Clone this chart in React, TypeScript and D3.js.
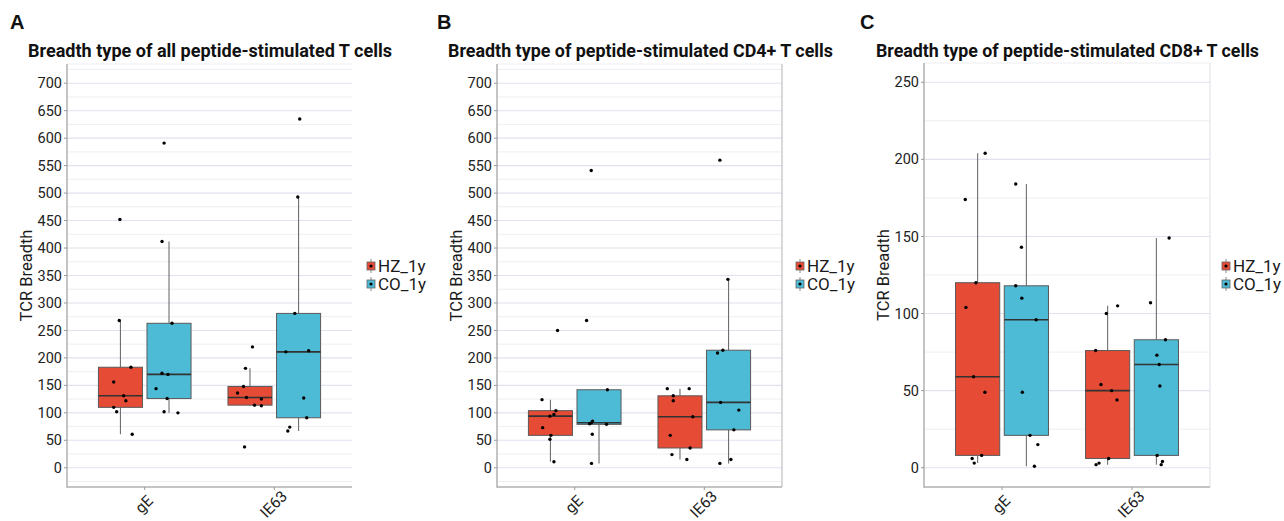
import React, { useEffect, useRef } from 'react';
import * as d3 from 'd3';

const categories = ['gE', 'IE63'];
const groups = ['HZ_1y', 'CO_1y'];
const groupColors = ['#E64B35', '#4DBBD5'];

const breadthTicks = [0, 50, 100, 150, 200, 250, 300, 350, 400, 450, 500, 550, 600, 650, 700];
const cd8Ticks = [0, 50, 100, 150, 200, 250];

// A: all peptide-stimulated T cells
const allGeHz = [452, 268, 183, 156, 131, 122, 110, 102, 61];
const allGeCo = [591, 412, 263, 172, 170, 144, 126, 102, 100];
const allIeHz = [220, 181, 148, 136, 128, 125, 114, 113, 38];
const allIeCo = [635, 493, 281, 211, 213, 127, 91, 74, 67];
const allJitter = [
  [-0.004, -0.009, 0.081, -0.052, 0.025, 0.042, -0.052, -0.029, 0.091],
  [-0.038, -0.054, 0.023, -0.054, -0.008, -0.1, -0.015, -0.038, 0.069],
  [0.019, -0.035, -0.05, -0.096, -0.027, 0.088, 0.035, 0.088, -0.042],
  [0.009, -0.006, -0.029, -0.098, 0.078, 0.04, 0.063, -0.068, -0.083],
];

// B: CD4+ T cells
const cd4GeHz = [250, 124, 104, 97, 94, 73, 59, 52, 11];
const cd4GeCo = [541, 268, 142, 85, 82, 80, 79, 61, 8];
const cd4IeHz = [144, 144, 131, 122, 93, 59, 36, 24, 15];
const cd4IeCo = [560, 343, 214, 209, 119, 105, 69, 15, 8];
const cd4Jitter = [
  [0.055, -0.065, 0.042, 0.027, -0.004, -0.06, 0.004, -0.004, 0.027],
  [-0.06, -0.096, 0.065, -0.05, -0.058, -0.073, 0.058, -0.052, -0.058],
  [-0.098, 0.071, -0.052, -0.052, 0.099, -0.075, 0.078, -0.062, 0.053],
  [-0.067, -0.005, -0.044, -0.085, -0.062, 0.079, 0.041, 0.018, -0.067],
];

// C: CD8+ T cells
const cd8GeHz = [204, 174, 120, 104, 59, 49, 8, 6, 3];
const cd8GeCo = [184, 143, 118, 110, 96, 49, 21, 15, 1];
const cd8IeHz = [105, 100, 76, 54, 50, 44, 6, 3, 2];
const cd8IeCo = [149, 107, 83, 73, 67, 53, 8, 4, 2];
const cd8Jitter = [
  [0.058, -0.095, -0.013, -0.09, -0.031, 0.056, 0.031, -0.042, -0.026],
  [-0.082, -0.038, -0.082, -0.035, 0.075, -0.031, 0.028, 0.088, 0.062],
  [0.077, -0.01, -0.092, -0.051, 0.031, 0.072, 0.008, -0.066, -0.089],
  [0.098, -0.045, 0.07, 0.004, 0.022, 0.027, 0.006, 0.047, 0.037],
];

const panels = [
  {
    letter: 'A', letterX: 10, title: 'Breadth type of all peptide-stimulated T cells', titleX: 28, titleW: 364,
    left: 67, right: 352, top: 64, bottom: 487, domain: [-35, 735], ticks: breadthTicks,
    series: [allGeHz, allGeCo, allIeHz, allIeCo], jitter: allJitter, legendX: 367, rightBorder: null,
  },
  {
    letter: 'B', letterX: 437, title: 'Breadth type of peptide-stimulated CD4+ T cells', titleX: 448, titleW: 385,
    left: 497, right: 782, top: 64, bottom: 487, domain: [-35, 735], ticks: breadthTicks,
    series: [cd4GeHz, cd4GeCo, cd4IeHz, cd4IeCo], jitter: cd4Jitter, legendX: 796, rightBorder: '#c4c4c4',
  },
  {
    letter: 'C', letterX: 860, title: 'Breadth type of peptide-stimulated CD8+ T cells', titleX: 876, titleW: 383,
    left: 924, right: 1210, top: 63, bottom: 487, domain: [-12.5, 262.5], ticks: cd8Ticks,
    series: [cd8GeHz, cd8GeCo, cd8IeHz, cd8IeCo], jitter: cd8Jitter, legendX: 1222, rightBorder: '#e6e6ec',
  },
];

const boxStats = (vals: number[]) => {
  const s = vals.slice().sort(d3.ascending);
  const q1 = d3.quantile(s, 0.25)!;
  const med = d3.quantile(s, 0.5)!;
  const q3 = d3.quantile(s, 0.75)!;
  const iqr = q3 - q1;
  const lo = d3.min(s.filter(v => v >= q1 - 1.5 * iqr))!;
  const hi = d3.max(s.filter(v => v <= q3 + 1.5 * iqr))!;
  return { q1, med, q3, lo, hi };
};

const FONT = 'Roboto, sans-serif';

const App = () => {
  const ref = useRef<SVGSVGElement>(null);

  useEffect(() => {
    const svg = d3.select(ref.current);
    svg.selectAll('*').remove();

    panels.forEach(p => {
      const g = svg.append('g');
      const x = d3.scaleLinear().domain([0.4, 2.6]).range([p.left, p.right]);
      const y = d3.scaleLinear().domain(p.domain).range([p.bottom, p.top]);
      const step = p.ticks[1] - p.ticks[0];

      // letter + title
      g.append('text').attr('x', p.letterX).attr('y', 28.5).text(p.letter)
        .attr('font-family', '"Liberation Sans", Arial, sans-serif').attr('font-weight', 'bold')
        .attr('font-size', 20).attr('fill', '#111');
      g.append('text').attr('x', p.titleX).attr('y', 56.5).text(p.title)
        .attr('font-family', FONT).attr('font-weight', 'bold').attr('font-size', 17.5)
        .attr('textLength', p.titleW).attr('lengthAdjust', 'spacingAndGlyphs').attr('fill', '#111');

      // grid
      const minor = [p.ticks[0] - step / 2, ...p.ticks.map(t => t + step / 2)]
        .filter(v => v > p.domain[0] && v < p.domain[1]);
      g.selectAll('.minor').data(minor).enter().append('line')
        .attr('x1', p.left).attr('x2', p.right).attr('y1', d => y(d)).attr('y2', d => y(d))
        .attr('stroke', '#eeeef4').attr('stroke-width', 1);
      g.selectAll('.major').data(p.ticks).enter().append('line')
        .attr('x1', p.left).attr('x2', p.right).attr('y1', d => y(d)).attr('y2', d => y(d))
        .attr('stroke', '#e0e2ee').attr('stroke-width', 1.1);

      // borders
      g.append('line').attr('x1', p.left).attr('x2', p.right).attr('y1', p.top).attr('y2', p.top)
        .attr('stroke', '#eeeef2');
      if (p.rightBorder) {
        g.append('line').attr('x1', p.right).attr('x2', p.right).attr('y1', p.top).attr('y2', p.bottom)
          .attr('stroke', p.rightBorder).attr('stroke-width', 1.3);
      }
      g.append('line').attr('x1', p.left).attr('x2', p.left).attr('y1', p.top).attr('y2', p.bottom + 0.7)
        .attr('stroke', '#b0b0b0').attr('stroke-width', 1.5);
      g.append('line').attr('x1', p.left).attr('x2', p.right).attr('y1', p.bottom).attr('y2', p.bottom)
        .attr('stroke', '#b0b0b0').attr('stroke-width', 1.5);

      // y ticks
      g.selectAll('.yt').data(p.ticks).enter().append('line')
        .attr('x1', p.left - 3).attr('x2', p.left).attr('y1', d => y(d)).attr('y2', d => y(d))
        .attr('stroke', '#999');
      g.selectAll('.yl').data(p.ticks).enter().append('text')
        .attr('x', p.left - 5).attr('y', d => y(d)).attr('dy', '0.35em')
        .attr('text-anchor', 'end').attr('font-family', FONT).attr('font-size', 14.5).attr('fill', '#222')
        .text(d => d);

      // x ticks
      categories.forEach((c, ci) => {
        const cx = x(ci + 1);
        g.append('line').attr('x1', cx).attr('x2', cx).attr('y1', p.bottom).attr('y2', p.bottom + 3)
          .attr('stroke', '#999');
        g.append('text').attr('transform', `translate(${cx + 3},${p.bottom + 21}) rotate(-45)`)
          .attr('text-anchor', 'middle').attr('font-family', FONT).attr('font-size', 15.5).attr('fill', '#222')
          .text(c);
      });

      // axis title
      g.append('text').attr('transform', `translate(${p.left - 35},${(p.top + p.bottom) / 2}) rotate(-90)`)
        .attr('text-anchor', 'middle').attr('font-family', FONT).attr('font-size', 16.5).attr('fill', '#1a1a1a')
        .text('TCR Breadth');

      // boxes
      categories.forEach((c, ci) => {
        groups.forEach((grp, gi) => {
          const k = ci * 2 + gi;
          const vals = p.series[k];
          const st = boxStats(vals);
          const center = ci + 1 + (gi === 0 ? -0.1875 : 0.1875);
          const x0 = x(center - 0.17);
          const x1 = x(center + 0.17);
          const xc = x(center);
          g.append('line').attr('x1', xc).attr('x2', xc).attr('y1', y(st.hi)).attr('y2', y(st.q3))
            .attr('stroke', '#6e6e6e').attr('stroke-width', 1.1);
          g.append('line').attr('x1', xc).attr('x2', xc).attr('y1', y(st.q1)).attr('y2', y(st.lo))
            .attr('stroke', '#6e6e6e').attr('stroke-width', 1.1);
          g.append('rect').attr('x', x0).attr('y', y(st.q3)).attr('width', x1 - x0)
            .attr('height', y(st.q1) - y(st.q3)).attr('fill', groupColors[gi])
            .attr('stroke', '#5a5a5a').attr('stroke-width', 1);
          g.append('line').attr('x1', x0).attr('x2', x1).attr('y1', y(st.med)).attr('y2', y(st.med))
            .attr('stroke', '#333').attr('stroke-width', 1.6);
          g.selectAll(`.pt${k}`).data(vals).enter().append('circle')
            .attr('cx', (d, i) => x(center + p.jitter[k][i])).attr('cy', d => y(d))
            .attr('r', 1.7).attr('fill', '#000');
        });
      });

      // legend
      groups.forEach((grp, gi) => {
        const cy = 266 + gi * 18;
        const kx = p.legendX + 4;
        g.append('line').attr('x1', kx).attr('x2', kx).attr('y1', cy - 7).attr('y2', cy + 7)
          .attr('stroke', '#8a8a8a');
        g.append('rect').attr('x', kx - 4).attr('y', cy - 4).attr('width', 8).attr('height', 8)
          .attr('fill', groupColors[gi]).attr('stroke', '#666').attr('stroke-width', 0.8);
        g.append('circle').attr('cx', kx).attr('cy', cy).attr('r', 1.6).attr('fill', '#000');
        g.append('text').attr('x', kx + 7).attr('y', cy).attr('dy', '0.36em')
          .attr('font-family', FONT).attr('font-size', 17).attr('fill', '#1a1a1a').text(grp);
      });
    });
  }, []);

  return (
    <svg ref={ref} width={1284} height={521}
      style={{ position: 'absolute', left: 0, top: 0, background: '#fff' }} />
  );
};

export default App;
